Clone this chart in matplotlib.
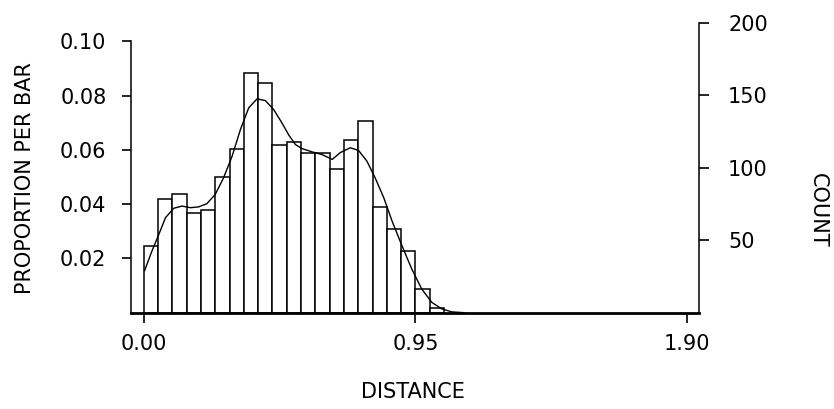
import matplotlib
matplotlib.use("Agg")
import matplotlib.pyplot as plt

# histogram bins (width 0.05) and proportion per bar
bin_left = [0.00, 0.05, 0.10, 0.15, 0.20, 0.25, 0.30, 0.35, 0.40, 0.45, 0.50,
            0.55, 0.60, 0.65, 0.70, 0.75, 0.80, 0.85, 0.90, 0.95, 1.00]
proportion = [0.0247, 0.0418, 0.0436, 0.0367, 0.0378, 0.0501, 0.0603, 0.0883,
              0.0845, 0.0618, 0.0631, 0.0589, 0.0588, 0.0531, 0.0637, 0.0705,
              0.0390, 0.0310, 0.0228, 0.0086, 0.0019]

# smooth density curve
curve_x = [0.003, 0.029, 0.053, 0.076, 0.105, 0.134, 0.163, 0.192, 0.221, 0.250,
           0.279, 0.309, 0.338, 0.367, 0.396, 0.425, 0.454, 0.483, 0.507, 0.530,
           0.553, 0.588, 0.623, 0.659, 0.687, 0.722, 0.751, 0.780, 0.809, 0.839,
           0.868, 0.903, 0.937, 0.972, 1.007, 1.042, 1.077, 1.120]
curve_y = [0.0155, 0.0228, 0.0289, 0.0350, 0.0385, 0.0393, 0.0387, 0.0390, 0.0402, 0.0436,
           0.0497, 0.0577, 0.0675, 0.0755, 0.0788, 0.0782, 0.0749, 0.0700, 0.0655, 0.0620,
           0.0605, 0.0593, 0.0583, 0.0565, 0.0590, 0.0608, 0.0598, 0.0559, 0.0497, 0.0424,
           0.0338, 0.0246, 0.0161, 0.0087, 0.0038, 0.0014, 0.0003, 0.0]

x_ticks = [0.00, 0.95, 1.90]
x_ticklabels = ["0.00", "0.95", "1.90"]
prop_ticks = [0.02, 0.04, 0.06, 0.08, 0.10]
prop_ticklabels = ["0.02", "0.04", "0.06", "0.08", "0.10"]
count_ticks = [50, 100, 150, 200]

W, H = 834, 409
plt.rcParams["font.family"] = ["DejaVu Sans"]

fig = plt.figure(figsize=(W / 100, H / 100), dpi=100)
ax = fig.add_axes([130.7 / W, (H - 312.7) / H, (699 - 130.7) / W, 290 / H])

ax.bar(bin_left, proportion, width=0.05, align="edge", color="white",
       edgecolor="black", linewidth=1.1)
ax.plot(curve_x, curve_y, color="black", lw=1)

ax.set_xlim(-0.0455, 1.941)
ax.set_ylim(0, 0.1 * 290 / 271.3)
ax.set_xticks(x_ticks)
ax.set_xticklabels(x_ticklabels)
ax.set_yticks(prop_ticks)
ax.set_yticklabels(prop_ticklabels)

ax.spines["top"].set_visible(False)
ax.spines["right"].set_visible(False)
ax.spines["left"].set_bounds(0, 0.10)
ax.spines["left"].set_linewidth(1.1)
ax.spines["bottom"].set_linewidth(2)
ax.tick_params(axis="y", direction="out", length=6.5, width=1.2, pad=11, labelsize=15)
ax.tick_params(axis="x", direction="out", length=7, width=1.2, pad=8, labelsize=15)

ax2 = ax.twinx()
ax2.set_ylim(0, 200)
ax2.set_yticks(count_ticks)
for s in ["top", "left", "bottom"]:
    ax2.spines[s].set_visible(False)
ax2.spines["right"].set_linewidth(1.1)
ax2.tick_params(axis="y", direction="out", length=7, width=1.2, pad=14, labelsize=15)

fig.text(25 / W, 1 - 178 / H, "PROPORTION PER BAR", rotation=90,
         ha="center", va="center", fontsize=15)
fig.text(818 / W, 1 - 210 / H, "COUNT", rotation=270,
         ha="center", va="center", fontsize=15)
fig.text(413 / W, 1 - 392 / H, "DISTANCE", ha="center", va="center", fontsize=15)

fig.savefig("out.png", dpi=100)
